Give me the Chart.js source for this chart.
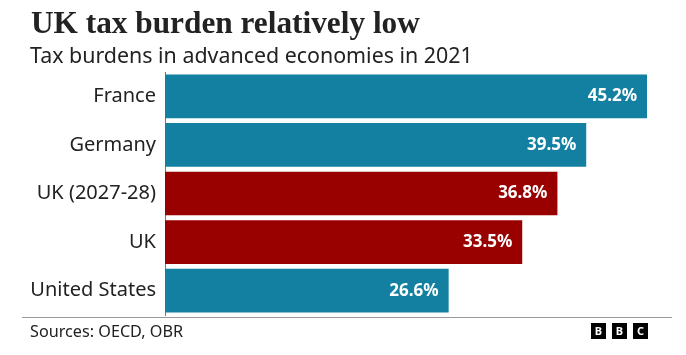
<!DOCTYPE html>
<html>
<head>
<meta charset="utf-8">
<script src="https://cdn.jsdelivr.net/npm/chart.js@4"></script>
<style>
  html, body { margin:0; padding:0; background:#fff; }
  body { width:686px; height:355px; position:relative; overflow:hidden; }
  #title { position:absolute; left:31px; top:5px; font-family:"Liberation Serif", serif; font-weight:bold; font-size:31.3px; color:#222; white-space:nowrap; }
  #subtitle { position:absolute; left:30px; top:40px; font-family:"Noto Sans", sans-serif; font-size:21.4px; color:#222; white-space:nowrap; }
  #chartwrap { position:absolute; left:0; top:0; width:686px; height:355px; }
  #rule { position:absolute; left:22px; top:317px; width:650px; height:1px; background:#999; }
  #source { position:absolute; left:30px; top:320px; font-family:"Noto Sans", sans-serif; font-size:16.2px; color:#222; white-space:nowrap; }
  #bbc { position:absolute; left:591px; top:323px; display:flex; gap:6px; }
  #bbc span { width:15px; height:16px; background:#000; color:#fff; font-family:"Noto Sans", sans-serif; font-weight:bold; font-size:11px; line-height:16px; text-align:center; display:block; }
</style>
</head>
<body>
<div id="chartwrap"><canvas id="c" width="686" height="355"></canvas></div>
<div id="title">UK tax burden relatively low</div>
<div id="subtitle">Tax burdens in advanced economies in 2021</div>
<div id="rule"></div>
<div id="source">Sources: OECD, OBR</div>
<div id="bbc"><span>B</span><span>B</span><span>C</span></div>
<script>
const categories = ["France", "Germany", "UK (2027-28)", "UK", "United States"];
const values = [45.2, 39.5, 36.8, 33.5, 26.6];
const highlighted = ["UK (2027-28)", "UK"];

const TEAL = "#1380A1";
const RED = "#990000";

const valueLabels = {
  id: "valueLabels",
  afterDatasetsDraw(chart) {
    const ctx = chart.ctx;
    const meta = chart.getDatasetMeta(0);
    ctx.save();
    ctx.font = "bold 17px 'Noto Sans', sans-serif";
    ctx.fillStyle = "#fff";
    ctx.textAlign = "right";
    ctx.textBaseline = "middle";
    meta.data.forEach((bar, i) => {
      ctx.fillText(values[i].toFixed(1) + "%", bar.x - 10, bar.y);
    });
    ctx.restore();
  }
};

new Chart(document.getElementById("c"), {
  type: "bar",
  data: {
    labels: categories,
    datasets: [{
      data: values,
      backgroundColor: categories.map(c => highlighted.includes(c) ? RED : TEAL),
      borderWidth: 0,
      barPercentage: 0.9,
      categoryPercentage: 1
    }]
  },
  options: {
    indexAxis: "y",
    responsive: false,
    animation: false,
    events: [],
    layout: { padding: { top: 72, bottom: 40, left: 0, right: 39 } },
    plugins: { legend: { display: false }, tooltip: { enabled: false }, title: { display: false } },
    scales: {
      x: { display: false, min: 0, max: 45.2 },
      y: {
        afterFit(scale) { scale.width = 165; },
        grid: { display: true, drawOnChartArea: false, drawTicks: false, color: "rgba(0,0,0,0)" },
        border: { display: true, color: "#777", width: 1 },
        ticks: { color: "#222", padding: 9, font: { family: "'Noto Sans', sans-serif", size: 20 } }
      }
    }
  },
  plugins: [valueLabels]
});
</script>
</body>
</html>
